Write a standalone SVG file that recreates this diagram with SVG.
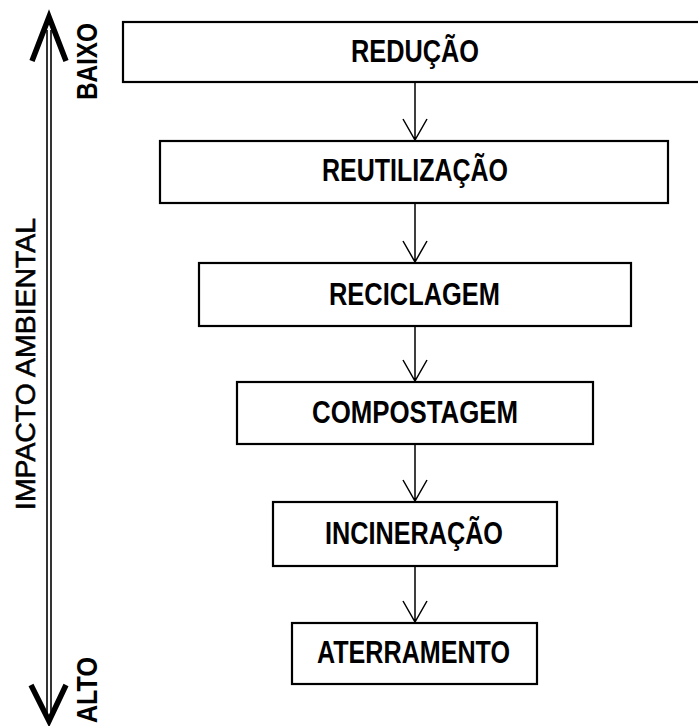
<svg xmlns="http://www.w3.org/2000/svg" width="698" height="726" viewBox="0 0 698 726">
<defs>
<style>
.box{fill:#fff;stroke:#000;stroke-width:2.2}
.lbl{font-family:"Liberation Sans",Arial,sans-serif;font-weight:bold;font-size:31px;fill:#000;text-anchor:middle}
.conn{stroke:#000;stroke-width:1.5;fill:none}
.axis{stroke:#000;stroke-width:1.6;fill:none}
.head{stroke:#000;stroke-width:5.5;fill:none;stroke-linejoin:miter;stroke-miterlimit:10}
.side{font-family:"Liberation Sans",Arial,sans-serif;font-weight:bold;font-size:29px;fill:#000;text-anchor:middle}
.axt{font-family:"Liberation Sans",Arial,sans-serif;font-size:27px;fill:#000;stroke:#000;stroke-width:0.6;text-anchor:middle}
</style>
</defs>
<rect width="698" height="726" fill="#fff"/>
<g id="axis">
<line class="axis" x1="47" y1="30" x2="47" y2="718"/>
<line class="axis" x1="51" y1="30" x2="51" y2="718"/>
<polyline class="head" points="32,61 49,17 66,61"/>
<polyline class="head" points="31,685 49,721 66,685"/>
<text class="axt" transform="translate(35,364) rotate(-90)" textLength="292" lengthAdjust="spacingAndGlyphs">IMPACTO AMBIENTAL</text>
<text class="side" transform="translate(97,61.5) rotate(-90)" textLength="77" lengthAdjust="spacingAndGlyphs">BAIXO</text>
<text class="side" transform="translate(97,690) rotate(-90)" textLength="66" lengthAdjust="spacingAndGlyphs">ALTO</text>
</g>
<g id="n1"><rect class="box" x="123" y="22" width="580" height="60"/><text class="lbl" x="415" y="62" textLength="128" lengthAdjust="spacingAndGlyphs">REDUÇÃO</text></g>
<g id="n2"><rect class="box" x="160" y="141" width="508" height="62"/><text class="lbl" x="415" y="181" textLength="186" lengthAdjust="spacingAndGlyphs">REUTILIZAÇÃO</text></g>
<g id="n3"><rect class="box" x="199" y="263" width="432" height="63"/><text class="lbl" x="414.5" y="305" textLength="171" lengthAdjust="spacingAndGlyphs">RECICLAGEM</text></g>
<g id="n4"><rect class="box" x="237" y="382" width="356" height="62"/><text class="lbl" x="415" y="423" textLength="206" lengthAdjust="spacingAndGlyphs">COMPOSTAGEM</text></g>
<g id="n5"><rect class="box" x="273" y="502" width="284" height="64"/><text class="lbl" x="414" y="544" textLength="178" lengthAdjust="spacingAndGlyphs">INCINERAÇÃO</text></g>
<g id="n6"><rect class="box" x="292" y="623" width="245" height="61"/><text class="lbl" x="413.5" y="663" textLength="193" lengthAdjust="spacingAndGlyphs">ATERRAMENTO</text></g>
<g id="connectors">
<path class="conn" d="M415,83 V140 M403,119 L415,140 L427,119"/>
<path class="conn" d="M415,204 V262 M403,241 L415,262 L427,241"/>
<path class="conn" d="M415,327 V381 M403,360 L415,381 L427,360"/>
<path class="conn" d="M415,445 V501 M403,480 L415,501 L427,480"/>
<path class="conn" d="M415,567 V622 M403,601 L415,622 L427,601"/>
</g>
</svg>
